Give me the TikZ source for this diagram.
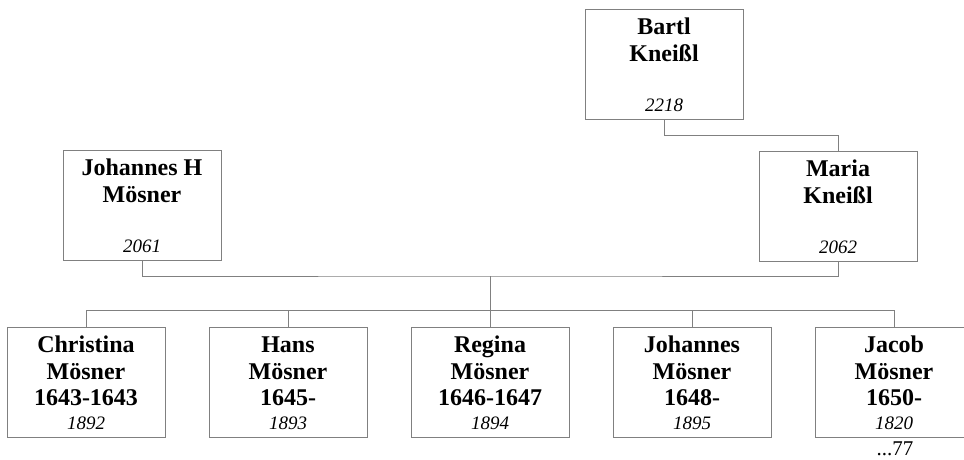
\documentclass[tikz,border=0pt]{standalone}
\usepackage{fontspec}
\setmainfont{Liberation Serif}
\definecolor{edge}{RGB}{128,128,128}
\tikzset{
  card/.style={draw=edge, line width=1pt, fill=white, minimum width=158pt, minimum height=110pt, inner sep=0pt},
  nm/.style={anchor=base, inner sep=0pt, font=\fontsize{24}{27}\selectfont\bfseries},
  num/.style={anchor=base, inner sep=0pt, font=\fontsize{19}{22}\selectfont\itshape},
  more/.style={anchor=base, inner sep=0pt, font=\fontsize{21}{23}\selectfont},
  link/.style={draw=edge, line width=1pt}
}
\newcommand\famcard[7]{%
  \node[card] (#1) at (#2,#3+55) {};
  \node[nm] (#1-a) at (#2,#3+25) {#4};
  \node[nm] (#1-b) at (#2,#3+52) {#5};
  \node[nm] (#1-c) at (#2,#3+78) {#6};
  \node[num] (#1-d) at (#2,#3+102) {#7};
}
\begin{document}
\begin{tikzpicture}[x=1pt,y=-1pt]
\useasboundingbox (0,0) rectangle (964,459);
\clip (0,0) rectangle (964,459);
\fill[white] (0,0) rectangle (964,459);
% parents
\famcard{bartl}{664}{9}{Bartl}{Kneißl}{}{2218}
\famcard{jh}{142}{150}{Johannes H}{Mösner}{}{2061}
\famcard{maria}{838}{151}{Maria}{Kneißl}{}{2062}
% children
\famcard{c1}{86}{327}{Christina}{Mösner}{1643-1643}{1892}
\famcard{c2}{288}{327}{Hans}{Mösner}{1645-}{1893}
\famcard{c3}{490}{327}{Regina}{Mösner}{1646-1647}{1894}
\famcard{c4}{692}{327}{Johannes}{Mösner}{1648-}{1895}
\famcard{c5}{894}{327}{Jacob}{Mösner}{1650-}{1820}
\node[more] (c5more) at (895,455) {...77};
% connectors
\coordinate (mid) at (490,276);
\coordinate (bar) at (490,310);
\draw[link] (bartl.south) -- ++(0,16) -| (maria.north);
\draw[link] (jh.south) |- (mid) -| (maria.south);
\draw[link] (mid) -- (bar);
\draw[link] (c1.north) |- (bar);
\draw[link] (c2.north) |- (bar);
\draw[link] (c3.north) -- (bar);
\draw[link] (c4.north) |- (bar);
\draw[link] (c5.north) |- (bar);
\end{tikzpicture}
\end{document}
